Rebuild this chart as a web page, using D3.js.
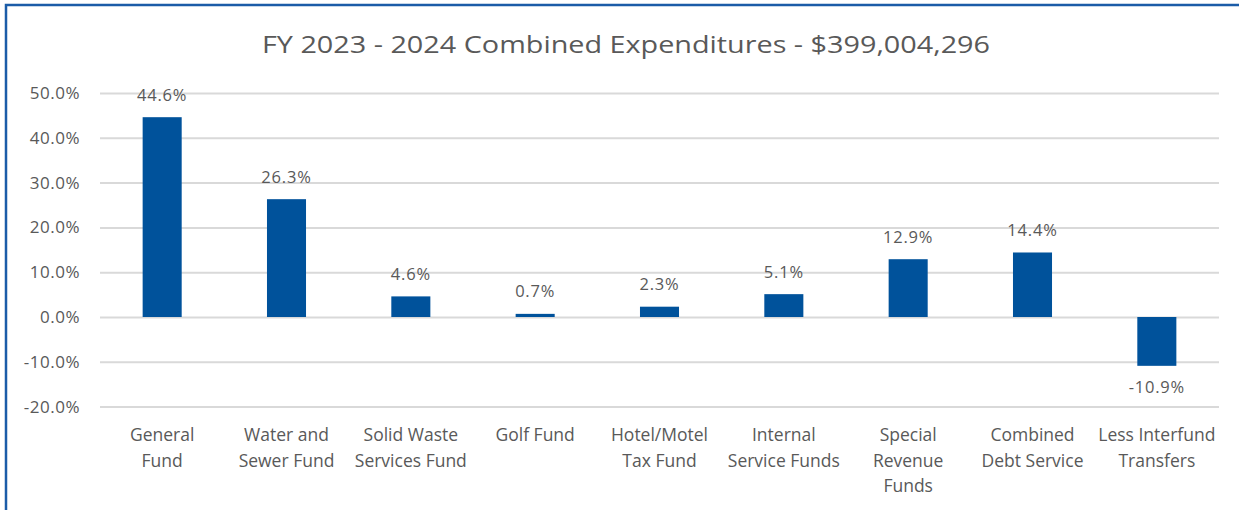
<!DOCTYPE html>
<html>
<head>
<meta charset="utf-8">
<script src="https://cdn.jsdelivr.net/npm/d3@7"></script>
<style>
  html, body { margin: 0; padding: 0; background: #fff; }
  svg { display: block; }
</style>
</head>
<body>
<svg id="chart" width="1239" height="510"></svg>
<script>
// Share of combined expenditures by fund, FY 2023-2024
const categories = [
  "General Fund", "Water and Sewer Fund", "Solid Waste Services Fund", "Golf Fund",
  "Hotel/Motel Tax Fund", "Internal Service Funds", "Special Revenue Funds",
  "Combined Debt Service", "Less Interfund Transfers"
];
const categoryLines = [
  ["General", "Fund"], ["Water and", "Sewer Fund"], ["Solid Waste", "Services Fund"],
  ["Golf Fund"], ["Hotel/Motel", "Tax Fund"], ["Internal", "Service Funds"],
  ["Special", "Revenue", "Funds"], ["Combined", "Debt Service"], ["Less Interfund", "Transfers"]
];
const shares = [44.6, 26.3, 4.6, 0.7, 2.3, 5.1, 12.9, 14.4, -10.9];
const yTicks = [-20, -10, 0, 10, 20, 30, 40, 50];
const title = "FY 2023 - 2024 Combined Expenditures - $399,004,296";

const font = "'Open Sans', sans-serif";
const textColor = "#595959";
const barColor = "#00529b";
const gridColor = "#d9d9d9";

const svg = d3.select("#chart");

// outer frame
svg.append("rect")
  .attr("x", 6).attr("y", 5)
  .attr("width", 1250).attr("height", 520)
  .attr("fill", "none")
  .attr("stroke", "#1b5ca8")
  .attr("stroke-width", 2.5);

const x = d3.scaleBand().domain(categories).range([100, 1219]).paddingInner(0.686).paddingOuter(0.343);
const y = d3.scaleLinear().domain([-20, 50]).range([406.6, 93]);

svg.append("text")
  .attr("x", 626).attr("y", 53)
  .attr("text-anchor", "middle")
  .attr("font-family", font).attr("font-size", 23.5)
  .attr("textLength", 728).attr("lengthAdjust", "spacingAndGlyphs")
  .attr("fill", textColor)
  .text(title);

// y axis: labels only, gridlines across the plot
const yAxis = d3.axisLeft(y).tickValues(yTicks)
  .tickFormat(d => d.toFixed(1) + "%")
  .tickSize(-(1219 - 100)).tickPadding(20);
const gy = svg.append("g").attr("transform", "translate(100,0)").call(yAxis);
gy.select(".domain").remove();
gy.selectAll(".tick line").attr("stroke", gridColor).attr("stroke-width", 2);
gy.selectAll(".tick text")
  .attr("font-family", font).attr("font-size", 17).attr("letter-spacing", 0.5)
  .attr("fill", textColor);

// bars
svg.append("g").selectAll("rect").data(categories).join("rect")
  .attr("x", d => x(d))
  .attr("width", x.bandwidth())
  .attr("y", (d, i) => y(Math.max(0, shares[i])))
  .attr("height", (d, i) => Math.abs(y(shares[i]) - y(0)))
  .attr("fill", barColor);

// value labels
svg.append("g").selectAll("text").data(categories).join("text")
  .attr("x", d => x(d) + x.bandwidth() / 2)
  .attr("y", (d, i) => shares[i] >= 0 ? y(shares[i]) - 16.5 : y(shares[i]) + 27)
  .attr("text-anchor", "middle")
  .attr("font-family", font).attr("font-size", 16.5).attr("letter-spacing", 0.8)
  .attr("fill", textColor)
  .text((d, i) => shares[i].toFixed(1) + "%");

// category labels
const cat = svg.append("g").selectAll("text").data(categories).join("text")
  .attr("x", d => x(d) + x.bandwidth() / 2)
  .attr("y", 441)
  .attr("text-anchor", "middle")
  .attr("font-family", font).attr("font-size", 17.5)
  .attr("fill", textColor);
cat.selectAll("tspan").data((d, i) => categoryLines[i]).join("tspan")
  .attr("x", function () { return d3.select(this.parentNode).attr("x"); })
  .attr("dy", (d, j) => j === 0 ? 0 : 25.5)
  .text(d => d);
</script>
</body>
</html>
